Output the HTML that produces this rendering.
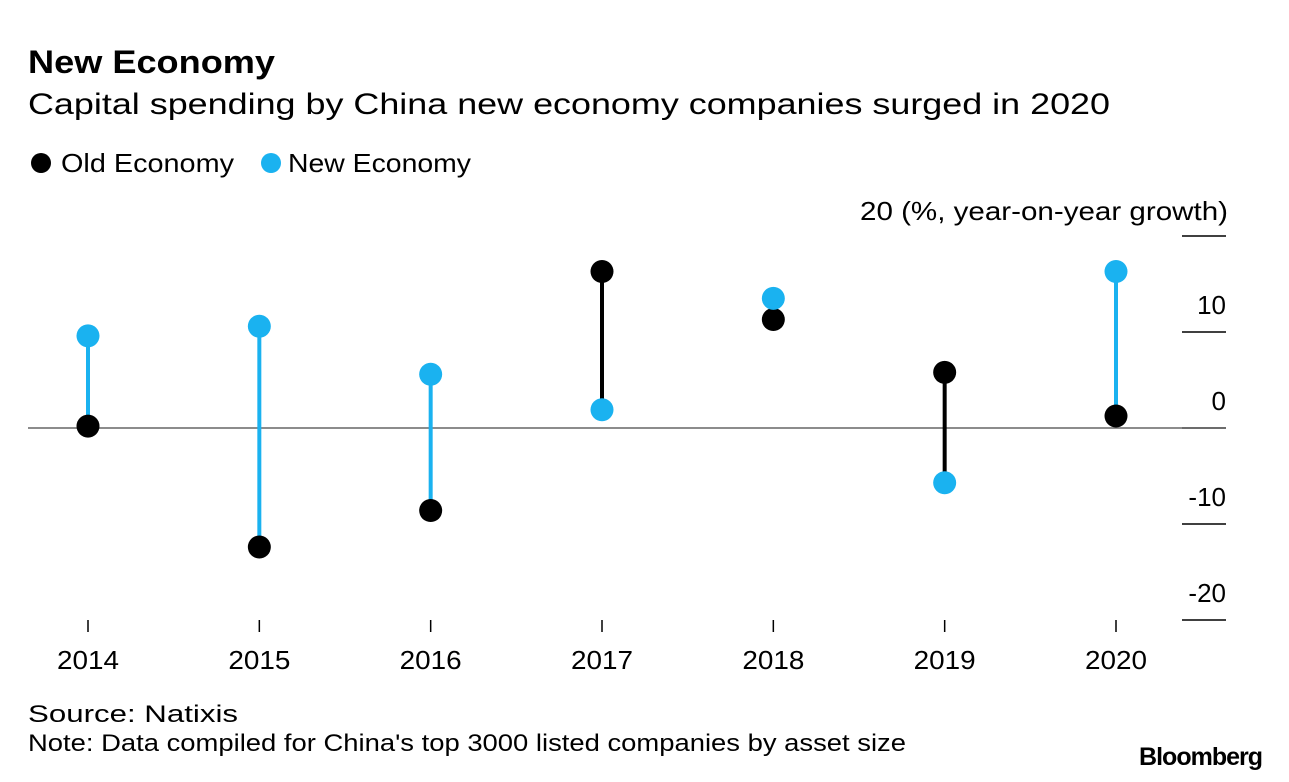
<!DOCTYPE html>
<html><head><meta charset="utf-8"><style>
body{margin:0;background:#fff;font-family:"Liberation Sans",sans-serif;color:#000;}
svg{display:block}
</style></head><body>
<svg width="1289" height="782">
<text x="28" y="73" font-size="32" font-weight="bold" textLength="247" lengthAdjust="spacingAndGlyphs">New Economy</text>
<text x="28" y="114" font-size="30" textLength="1082" lengthAdjust="spacingAndGlyphs">Capital spending by China new economy companies surged in 2020</text>
<g>
<circle cx="41" cy="163" r="10" fill="#000"/>
<text x="61" y="172" font-size="26" textLength="173" lengthAdjust="spacingAndGlyphs">Old Economy</text>
<circle cx="271" cy="163" r="10" fill="#1ab2f0"/>
<text x="288" y="172" font-size="26" textLength="183" lengthAdjust="spacingAndGlyphs">New Economy</text>
</g>
<text x="860" y="220" font-size="26" textLength="368" lengthAdjust="spacingAndGlyphs">20 (%, year-on-year growth)</text>
<g id="axes"></g>
<g id="marks"></g>
<text x="28" y="722" font-size="24" textLength="210" lengthAdjust="spacingAndGlyphs">Source: Natixis</text>
<text x="28" y="751" font-size="24" textLength="878" lengthAdjust="spacingAndGlyphs">Note: Data compiled for China's top 3000 listed companies by asset size</text>
<text x="1262" y="765" font-size="25" font-weight="bold" text-anchor="end" letter-spacing="-1">Bloomberg</text>
</svg>
<script>
const years=["2014","2015","2016","2017","2018","2019","2020"];
const oldEconomy=[0.2,-12.4,-8.6,16.3,11.3,5.8,1.25];
const newEconomy=[9.6,10.6,5.6,1.9,13.5,-5.7,16.3];
const yTicks=[20,10,0,-10,-20];
const yTickLabels=["","10","0","-10","-20"];
const NS="http://www.w3.org/2000/svg";
const x=i=>88+i*(1116-88)/(years.length-1);
const y=v=>428-v*9.6;
function mk(t,a,p){const e=document.createElementNS(NS,t);for(const k in a)e.setAttribute(k,a[k]);p.appendChild(e);return e;}
const ax=document.getElementById('axes'),mg=document.getElementById('marks');
yTicks.forEach((v,i)=>{
 const l=mk('line',{x1:1182,x2:1226,y1:y(v),y2:y(v),stroke:'#000','stroke-width':1.5},ax);
 
 
 if(yTickLabels[i]){const t=mk('text',{x:1226,y:y(v)-18,'font-size':26,'text-anchor':'end'},ax);t.textContent=yTickLabels[i];
 
 }
});
const z=mk('line',{x1:28,x2:1226,y1:y(0),y2:y(0),stroke:'#666','stroke-width':1.5},ax);


years.forEach((yr,i)=>{
 const tk=mk('line',{x1:x(i),x2:x(i),y1:620,y2:632,stroke:'#000','stroke-width':1.5},ax);
 
 
 const t=mk('text',{x:x(i)-31,y:669,'font-size':26,textLength:62,lengthAdjust:'spacingAndGlyphs'},ax);t.textContent=yr;
 
 
 const o=oldEconomy[i],n=newEconomy[i];
 const col=n>o?'#1ab2f0':'#000';
 const s=mk('line',{x1:x(i),x2:x(i),y1:y(o),y2:y(n),stroke:col,'stroke-width':4},mg);
 
 
 const c1=mk('circle',{cx:x(i),cy:y(o),r:11.5,fill:'#000'},mg);
 
 
 const c2=mk('circle',{cx:x(i),cy:y(n),r:11.5,fill:'#1ab2f0'},mg);
 
 
});
</script>
</body></html>
